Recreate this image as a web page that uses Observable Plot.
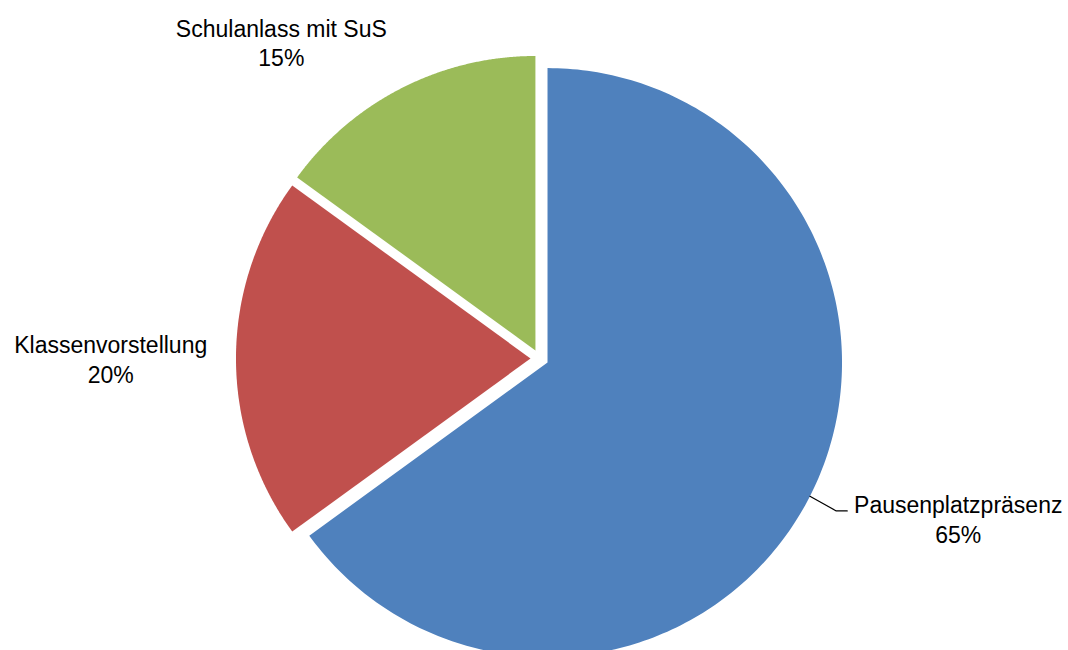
<!DOCTYPE html>
<html><head><meta charset="utf-8">
<script src="https://cdn.jsdelivr.net/npm/d3@7"></script>
<script src="https://cdn.jsdelivr.net/npm/@observablehq/plot@0.6"></script>
<style>html,body{margin:0;padding:0;background:#fff;overflow:hidden;} #chart svg{display:block;}</style>
</head><body><div id="chart"></div>
<script>
// ---- data ----
const categories = ["Pausenplatzpräsenz", "Klassenvorstellung", "Schulanlass mit SuS"];
const values = [65, 20, 15];
const colors = ["#4F81BD", "#C0504D", "#9BBB59"];

// ---- layout ----
const W = 1068, H = 650;
const R = 294.5;          // pie radius (px)
const cx = 539, cy = 358; // pie centre (px)
const explode = 9;        // slice explosion (px)
const labelLayout = {     // distance in radii, angle nudge in degrees
  "Pausenplatzpräsenz": {m: 1.522, nudge: -6.1, leader: true},
  "Klassenvorstellung": {m: 1.456, nudge: 0},
  "Schulanlass mit SuS": {m: 1.387, nudge: -12.2}
};

const table = categories.map((c, i) => ({name: c, value: values[i]}));
const total = d3.sum(values);
const arcs = d3.pie().sort(null).value(d => d.value)(table);
const pol = (a, r) => [Math.sin(a) * r, -Math.cos(a) * r];

const slicePts = [];
const labels = [];
const leaders = [];
for (const a of arcs) {
  const name = a.data.name;
  const mid = (a.startAngle + a.endAngle) / 2;
  const [ox, oy] = pol(mid, explode);
  slicePts.push({name, x: ox, y: oy});
  const n = 240;
  for (let k = 0; k <= n; k++) {
    const t = a.startAngle + (a.endAngle - a.startAngle) * k / n;
    const [px, py] = pol(t, R);
    slicePts.push({name, x: ox + px, y: oy + py});
  }
  slicePts.push({name, x: ox, y: oy});

  const L = labelLayout[name];
  const [lx, ly] = pol(mid + L.nudge * Math.PI / 180, R * L.m);
  const pct = Math.round(a.data.value / total * 100);
  labels.push({x: lx, y: ly, text: `${name}\n${pct}%`});
  if (L.leader) {
    const [sx, sy] = pol(mid, R);
    leaders.push({x: ox + sx, y: oy + sy});
    leaders.push({x: lx - 122, y: ly - 7.5});
    leaders.push({x: lx - 111, y: ly - 7.5});
  }
}

const chart = Plot.plot({
  width: W, height: H,
  margin: 0,
  x: {domain: [-cx, W - cx], range: [0, W], axis: null},
  y: {domain: [-cy, H - cy], range: [0, H], axis: null},
  color: {domain: categories, range: colors},
  style: {background: "white", overflow: "hidden"},
  marks: [
    Plot.line(slicePts, {x: "x", y: "y", z: "name", fill: "name", stroke: "none", curve: "linear"}),
    Plot.line(leaders, {x: "x", y: "y", stroke: "black", strokeWidth: 1.2}),
    Plot.text(labels, {x: "x", y: "y", text: "text", fontSize: 23, fontFamily: "Liberation Sans",
      lineHeight: 1.3, fill: "black", textAnchor: "middle"})
  ]
});
document.getElementById("chart").appendChild(chart);
</script>
</body></html>
